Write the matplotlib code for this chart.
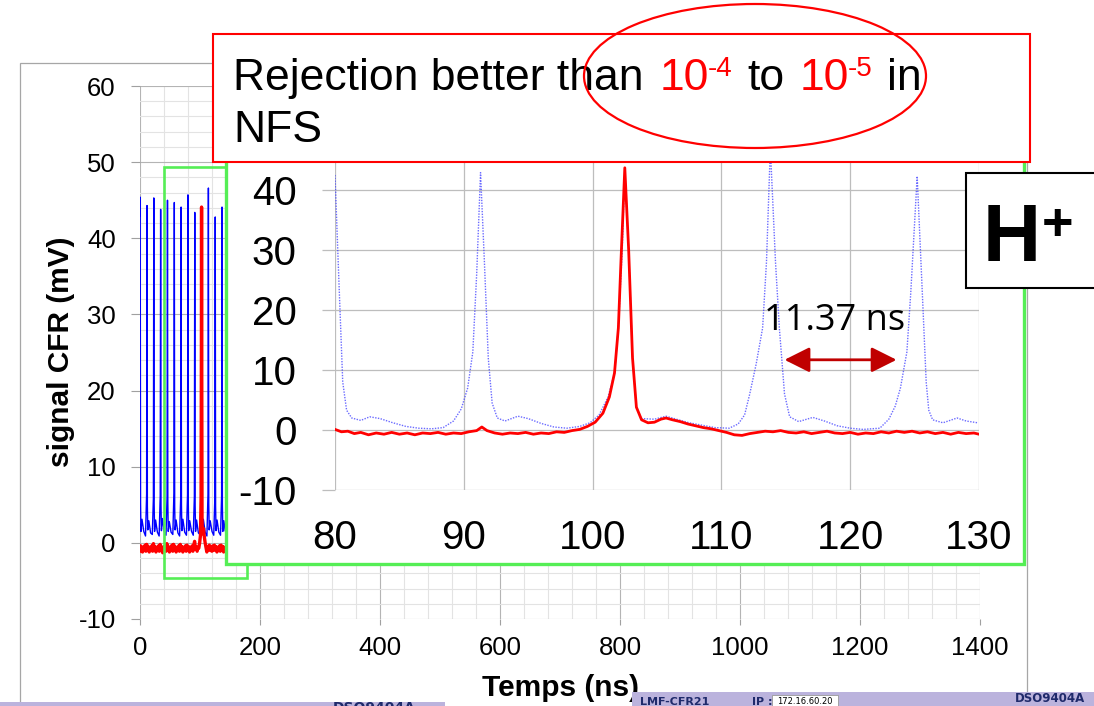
import matplotlib
matplotlib.use("Agg")
import matplotlib.pyplot as plt
from matplotlib.patches import Rectangle, Ellipse
from matplotlib.ticker import MultipleLocator

plt.rcParams["font.family"] = ["Liberation Sans", "DejaVu Sans"]
plt.rcParams["axes.unicode_minus"] = False

W, H = 1094, 706

# full record (ns, mV) - blue = all bunches, red = after chopper
main_blue = [
    (0.0, 43.0), (0.3, 45.4), (0.9, 5.2), (1.6, 1.5), (3.3, 3.1), (6.3, 1.5), (9.2, 0.9),
    (11.0, 6.4), (11.7, 44.3), (12.3, 4.8), (13.0, 1.7), (14.7, 2.9), (17.7, 1.3), (20.5, 1.1),
    (22.3, 5.8), (23.0, 45.3), (23.6, 5.1), (24.3, 1.5), (26.0, 3.0), (29.0, 1.4), (31.9, 0.9),
    (33.7, 6.2), (34.4, 43.8), (35.0, 4.9), (35.7, 1.6), (37.4, 3.2), (40.4, 1.5), (43.3, 1.0),
    (45.1, 6.0), (45.8, 45.0), (46.4, 5.3), (47.1, 1.5), (48.8, 2.8), (51.8, 1.4), (54.7, 1.1),
    (56.5, 6.5), (57.2, 44.7), (57.8, 4.7), (58.5, 1.7), (60.2, 3.0), (63.2, 1.3), (66.0, 0.9),
    (67.8, 5.9), (68.5, 44.1), (69.1, 5.0), (69.8, 1.6), (71.5, 3.1), (74.5, 1.4), (77.4, 1.0),
    (79.2, 6.3), (79.9, 45.7), (80.5, 5.2), (81.2, 1.6), (82.9, 2.9), (85.9, 1.5), (88.8, 1.0),
    (90.6, 6.1), (91.3, 43.4), (91.9, 4.9), (92.6, 1.5), (94.3, 3.0), (97.3, 1.3), (100.1, 1.1),
    (101.9, 6.0), (102.6, 43.8), (103.2, 5.0), (103.9, 1.6), (105.6, 3.1), (108.6, 1.4), (111.5, 0.9),
    (113.3, 6.4), (114.0, 46.6), (114.6, 5.1), (115.3, 1.7), (117.0, 2.9), (120.0, 1.5), (122.9, 1.0),
    (124.7, 5.8), (125.4, 42.8), (126.0, 4.8), (126.7, 1.6), (128.4, 3.0), (131.4, 1.4), (134.2, 1.0),
    (136.0, 6.2), (136.7, 44.1), (137.3, 5.1), (138.0, 1.5), (139.7, 2.9), (142.0, 1.6),
]
main_red = [
    (0.0, -0.4), (1.4, -1.1), (2.8, -0.5), (4.2, -1.2), (5.6, -0.6), (7.0, -1.0), (8.4, -0.3), (9.8, -1.1),
    (11.2, -0.2), (12.6, -1.0), (14.0, -0.5), (15.4, -1.2), (16.8, -0.6), (18.2, -0.9), (19.6, -0.4), (21.0, -1.1),
    (22.4, -0.1), (23.8, -0.9), (25.2, -0.5), (26.6, -1.2), (28.0, -0.6), (29.4, -1.0), (30.8, -0.4), (32.2, -1.1),
    (33.6, -0.2), (35.0, -1.0), (36.4, -0.6), (37.8, -1.3), (39.2, -0.5), (40.6, -0.9), (42.0, -0.4), (43.4, -1.1),
    (44.8, -0.1), (46.2, -0.9), (47.6, -0.5), (49.0, -1.2), (50.4, -0.6), (51.8, -1.0), (53.2, -0.3), (54.6, -1.1),
    (56.0, -0.2), (57.4, -0.8), (58.8, -0.5), (60.2, -1.2), (61.6, -0.7), (63.0, -1.0), (64.4, -0.4), (65.8, -1.1),
    (67.2, -0.2), (68.6, -0.9), (70.0, -0.5), (71.4, -1.2), (72.8, -0.6), (74.2, -1.0), (75.6, -0.4), (77.0, -1.1),
    (78.4, -0.3), (79.8, -0.8), (81.2, -0.5), (82.6, -1.2), (84.0, -0.6), (85.4, -1.0), (86.8, -0.4), (88.2, -1.1),
    (89.6, -0.3), (91.0, 0.2), (92.4, -0.8), (93.8, -0.5), (95.2, -1.1), (96.6, -0.6), (98.0, -0.7), (99.4, 0.0),
    (100.8, 1.0), (101.8, 6.0), (102.3, 25.0), (102.6, 44.1), (102.9, 25.0), (103.4, 3.0), (104.0, 1.2), (105.8, 1.9),
    (107.2, 0.8), (108.6, 0.0), (110.0, -0.6), (111.4, -1.2), (112.8, -0.5), (114.2, -0.8), (115.6, -0.3), (117.0, -1.0),
    (118.4, -0.5), (119.8, -1.1), (121.2, -0.4), (122.6, -1.0), (124.0, -0.3), (125.4, -0.9), (126.8, -0.5), (128.2, -1.2),
    (129.6, -0.6), (131.0, -1.0), (132.4, -0.4), (133.8, -1.1), (135.2, -0.3), (136.6, -0.9), (138.0, -0.5), (139.4, -1.2),
    (140.8, -0.6),
]

# zoom 80-130 ns
zoom_blue = [
    (80.0, 42.5), (80.3, 25.0), (80.6, 8.0), (80.9, 3.3), (81.3, 2.0), (82.0, 1.6), (82.7, 2.2), (83.5, 1.9),
    (84.5, 1.2), (85.5, 0.6), (86.5, 0.3), (87.5, 0.2), (88.4, 0.4), (89.2, 1.5), (89.8, 3.5), (90.3, 7.0),
    (90.7, 13.0), (91.0, 26.0), (91.3, 42.9), (91.6, 28.0), (91.9, 12.0), (92.2, 4.5), (92.6, 2.0), (93.2, 1.5),
    (94.2, 2.3), (95.0, 1.9), (96.0, 1.1), (97.0, 0.5), (98.0, 0.3), (99.0, 0.6), (99.8, 1.2), (100.5, 2.5),
    (101.2, 5.5), (101.7, 9.5), (102.0, 17.0), (102.3, 30.0), (102.5, 43.5), (102.8, 30.0), (103.1, 12.0), (103.4, 3.8),
    (103.8, 1.9), (104.8, 1.8), (105.7, 2.3), (106.5, 1.8), (107.5, 1.2), (108.5, 0.8), (109.5, 0.4), (110.6, 0.3),
    (111.3, 1.0), (111.8, 2.5), (112.2, 6.0), (112.7, 11.0), (113.2, 17.0), (113.5, 28.0), (113.8, 47.0), (114.2, 28.0),
    (114.5, 17.0), (114.9, 6.0), (115.3, 2.2), (116.0, 1.4), (117.1, 2.1), (118.0, 1.5), (119.0, 0.7), (120.0, 0.3),
    (121.0, 0.1), (122.3, 0.3), (123.0, 1.8), (123.5, 4.0), (123.9, 7.0), (124.4, 13.0), (124.7, 22.8), (125.2, 42.3),
    (125.6, 22.8), (125.9, 8.0), (126.1, 3.3), (126.4, 1.7), (127.2, 1.2), (128.3, 2.0), (129.0, 1.5), (129.9, 1.2),
]
zoom_red = [
    (80.0, 0.1), (80.5, -0.3), (81.0, -0.2), (81.5, -0.6), (82.0, -0.4), (82.6, -0.8), (83.2, -0.5), (83.8, -0.7),
    (84.4, -0.4), (85.0, -0.7), (85.6, -0.5), (86.2, -0.8), (86.8, -0.5), (87.4, -0.6), (88.0, -0.4), (88.6, -0.7),
    (89.2, -0.5), (89.8, -0.6), (90.4, -0.3), (91.0, -0.1), (91.4, 0.5), (91.8, -0.1), (92.4, -0.5), (93.0, -0.7),
    (93.6, -0.5), (94.2, -0.6), (94.8, -0.4), (95.4, -0.7), (96.0, -0.5), (96.6, -0.6), (97.2, -0.3), (97.8, -0.4),
    (98.4, -0.1), (99.0, 0.1), (99.6, 0.6), (100.2, 1.3), (100.8, 2.8), (101.3, 5.5), (101.7, 9.5), (102.0, 17.0),
    (102.2, 28.0), (102.5, 43.7), (102.8, 30.0), (103.1, 12.0), (103.4, 3.8), (103.8, 1.7), (104.3, 1.2), (104.8, 1.3),
    (105.3, 1.8), (105.7, 2.0), (106.2, 1.7), (106.8, 1.4), (107.4, 1.0), (108.0, 0.7), (108.6, 0.4), (109.2, 0.2),
    (109.8, -0.1), (110.4, -0.4), (111.0, -0.8), (111.6, -0.9), (112.2, -0.6), (112.8, -0.4), (113.4, -0.2), (114.0, -0.3),
    (114.6, -0.1), (115.2, -0.4), (115.8, -0.5), (116.4, -0.3), (117.0, -0.6), (117.6, -0.4), (118.2, -0.2), (118.8, -0.5),
    (119.4, -0.6), (120.0, -0.4), (120.6, -0.7), (121.2, -0.5), (121.8, -0.6), (122.4, -0.3), (123.0, -0.5), (123.6, -0.2),
    (124.2, -0.4), (124.8, -0.2), (125.4, -0.5), (126.0, -0.3), (126.6, -0.6), (127.2, -0.4), (127.8, -0.7), (128.4, -0.4),
    (129.0, -0.6), (129.6, -0.5), (130.0, -0.7),
]

main_xticks = [0, 200, 400, 600, 800, 1000, 1200, 1400]
main_yticks = [-10, 0, 10, 20, 30, 40, 50, 60]
zoom_xticks = [80, 90, 100, 110, 120, 130]
zoom_yticks = [-10, 0, 10, 20, 30, 40]

zoom_window = (40, -4.6, 178, 49.3)   # green box on the full record
spacing_mark = (114.9, 123.6, 11.7)   # arrow between two bunches

GREEN = "#55ee55"
NAVY = "#1f2a6b"
STRIP = "#bbb3dd"


def fx(px):
    return px / W


def fy(py):
    return 1 - py / H


def unzip(pts):
    return [p[0] for p in pts], [p[1] for p in pts]


fig = plt.figure(figsize=(W / 100, H / 100), dpi=100)

# chart area frame
fig.add_artist(Rectangle((fx(20), -0.05), fx(1027) - fx(20), fy(63) + 0.05,
                         transform=fig.transFigure, fill=False, ec="#a6a6a6", lw=0.9, zorder=0.5))

# ---- main plot
ax = fig.add_axes([fx(140), fy(619), fx(980) - fx(140), fy(86) - fy(619)])
ax.set_xlim(0, 1400)
ax.set_ylim(-10, 60)
ax.set_xticks(main_xticks)
ax.set_yticks(main_yticks)
ax.xaxis.set_minor_locator(MultipleLocator(40))
ax.yaxis.set_minor_locator(MultipleLocator(2))
ax.grid(which="major", color="#b4b4b4", lw=0.8)
ax.grid(which="minor", color="#e3e3e3", lw=0.8)
ax.set_axisbelow(True)
for s in ax.spines.values():
    s.set_visible(False)
ax.tick_params(which="minor", length=0)
ax.tick_params(axis="y", which="major", length=6.5, width=0.8, color="#a0a0a0", pad=11, labelsize=18.5)
ax.tick_params(axis="x", which="major", length=4.5, width=0.8, color="#a0a0a0", pad=8, labelsize=18.5)

t, v = unzip(main_blue)
ax.plot(t, v, color="#0000ff", lw=1.0)
t, v = unzip(main_red)
ax.plot(t, v, color="#ff0000", lw=2.4)

x0, y0, x1, y1 = zoom_window
ax.add_patch(Rectangle((x0, y0), x1 - x0, y1 - y0, fill=False, ec=GREEN, lw=1.9, zorder=5))

fig.text(fx(61), fy(352), "signal CFR (mV)", rotation=90, ha="center", va="center",
         fontsize=21.5, fontweight="bold")
fig.text(fx(560), fy(688), "Temps (ns)", ha="center", va="center", fontsize=21.5, fontweight="bold")

# ---- zoom inset
fig.add_artist(Rectangle((fx(226), fy(564)), fx(1024) - fx(226), fy(145) - fy(564),
                         transform=fig.transFigure, fc="white", ec=GREEN, lw=2.4, zorder=1))

axz = fig.add_axes([fx(335), fy(490), fx(979) - fx(335), fy(142) - fy(490)], zorder=2)
axz.patch.set_visible(False)
axz.set_xlim(80, 130)
axz.set_ylim(-10, 48)
axz.set_xticks(zoom_xticks)
axz.set_yticks(zoom_yticks)
axz.grid(color="#bdbdbd", lw=0.9)
axz.set_axisbelow(True)
for s in axz.spines.values():
    s.set_visible(False)
axz.tick_params(axis="y", length=9.4, width=0.9, color="#bdbdbd", pad=18, labelsize=29)
axz.tick_params(axis="x", length=0, pad=21, labelsize=29)

t, v = unzip(zoom_blue)
axz.plot(t, v, color="#4646ff", lw=1.0, ls=(0, (1, 1)), alpha=0.8)
t, v = unzip(zoom_red)
axz.plot(t, v, color="#ff0000", lw=2.0)

xa, xb, ya = spacing_mark
axz.annotate("", xy=(xa, ya), xytext=(xb, ya),
             arrowprops=dict(arrowstyle="<|-|>,head_length=0.7,head_width=0.35",
                             color="#c00000", lw=2, mutation_scale=22, shrinkA=0, shrinkB=0))
axz.text((xa + xb) / 2 - 0.5, 16.7, "11.37 ns", ha="center", va="baseline",
         fontsize=26, family=["Open Sans", "DejaVu Sans"])

# ---- title box
fig.add_artist(Rectangle((fx(213), fy(162)), fx(1030) - fx(213), fy(34) - fy(162),
                         transform=fig.transFigure, fc="white", ec="#ff0000", lw=1.5, zorder=3))
title_parts = [
    (233, 90, "Rejection better than", "black", 32),
    (660, 90, "10", "#ff0000", 32),
    (708, 76, "-4", "#ff0000", 20),
    (747, 90, "to", "black", 32),
    (800, 90, "10", "#ff0000", 32),
    (848, 76, "-5", "#ff0000", 20),
    (887, 90, "in", "black", 32),
    (233, 142, "NFS", "black", 32),
]
for px, py, s, c, fs in title_parts:
    fig.text(fx(px), fy(py), s, color=c, fontsize=fs, va="baseline", ha="left", zorder=4)

fig.add_artist(Ellipse((fx(755), fy(76)), 342 / W, 144 / H, transform=fig.transFigure,
                       fill=False, ec="#ff0000", lw=1.6, zorder=5))

# ---- H+ box
fig.add_artist(Rectangle((fx(966), fy(288)), fx(1100) - fx(966), fy(173) - fy(288),
                         transform=fig.transFigure, fc="white", ec="black", lw=1.5, zorder=3))
fig.text(fx(983), fy(261), "H", fontsize=58, fontweight="bold", va="baseline", ha="left", zorder=4)
fig.text(fx(1058), fy(240), "+", fontsize=39, fontweight="bold", va="baseline", ha="center", zorder=4)

# ---- scope status strips at the bottom
fig.add_artist(Rectangle((0, 0), fx(445), fy(701.5), transform=fig.transFigure,
                         fc=STRIP, ec="none", zorder=6))
fig.text(fx(333), fy(701), "DSO9404A", color=NAVY, fontsize=10, fontweight="bold",
         family="DejaVu Sans", va="top", ha="left", zorder=7)
fig.add_artist(Rectangle((fx(632), 0), 1 - fx(632), fy(692), transform=fig.transFigure,
                         fc=STRIP, ec="none", zorder=6))
fig.text(fx(640), fy(697), "LMF-CFR21", color=NAVY, fontsize=8, fontweight="bold",
         family="DejaVu Sans", va="top", ha="left", zorder=7)
fig.text(fx(752), fy(697), "IP :", color=NAVY, fontsize=8, fontweight="bold",
         family="DejaVu Sans", va="top", ha="left", zorder=7)
fig.add_artist(Rectangle((fx(772), 0), fx(838) - fx(772), fy(695), transform=fig.transFigure,
                         fc="white", ec="#999999", lw=0.6, zorder=7))
fig.text(fx(805), fy(697), "172.16.60.20", color="black", fontsize=6,
         family="DejaVu Sans", va="top", ha="center", zorder=8)
fig.text(fx(1085), fy(699), "DSO9404A", color=NAVY, fontsize=8.5, fontweight="bold",
         family="DejaVu Sans", va="center", ha="right", zorder=7)

fig.savefig("out.png", dpi=100, facecolor="white")
